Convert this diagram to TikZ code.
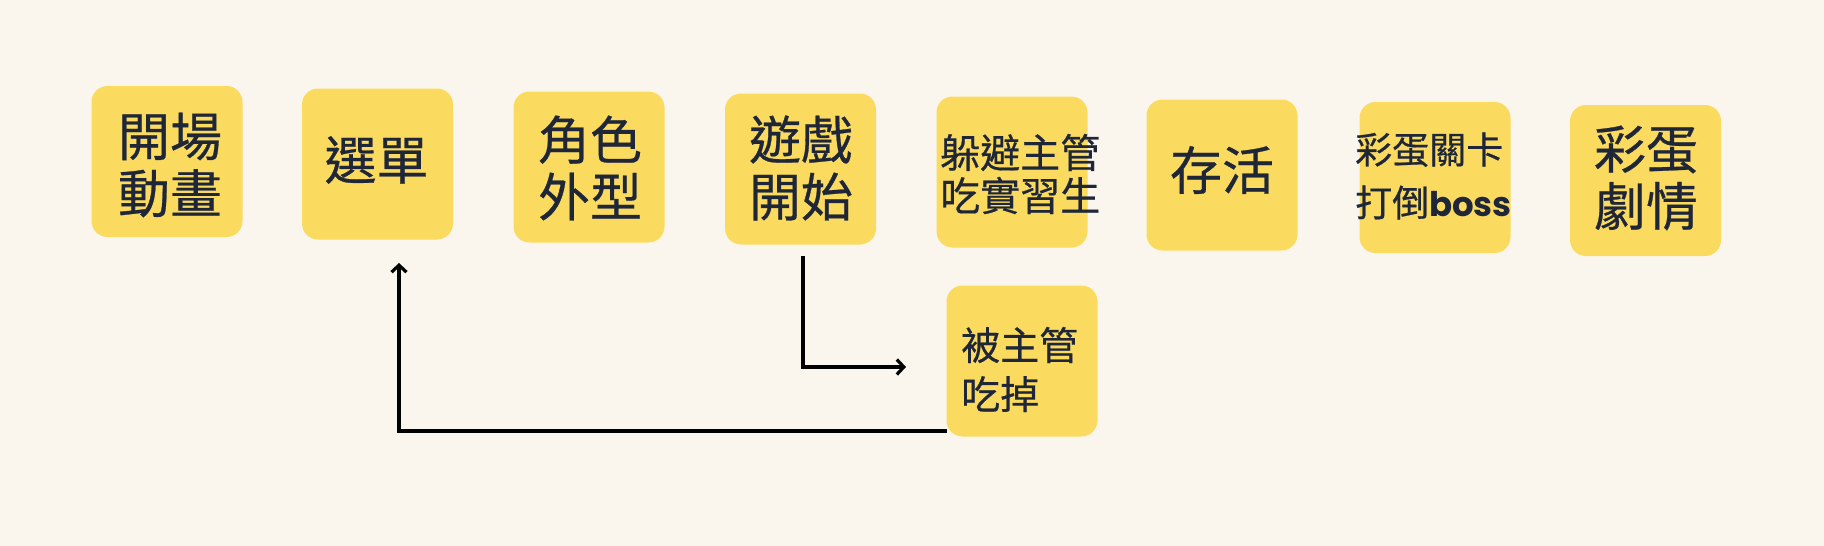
\documentclass[tikz,border=0pt]{standalone}
\usepackage{fontspec}
\setmainfont{Noto Sans CJK TC}[FakeBold=0.5]
\newfontfamily\popfont{Poppins}
\usetikzlibrary{arrows.meta}
\definecolor{bgc}{HTML}{FAF6EE}
\definecolor{boxc}{HTML}{FADB5F}
\definecolor{txtc}{HTML}{1F2638}
\tikzset{
  card/.style={fill=boxc, draw=none, rounded corners=16pt, minimum width=151pt, minimum height=151pt, inner sep=0pt},
  bigtxt/.style={text=txtc, align=center, inner sep=0pt, font=\fontsize{52}{57}\selectfont},
  midtxt/.style={text=txtc, align=left, inner sep=0pt, font=\fontsize{40}{43}\selectfont},
  bosstxt/.style={text=txtc, align=left, inner sep=0pt, font=\fontsize{37}{53}\selectfont},
  eatentxt/.style={text=txtc, align=left, inner sep=0pt, font=\fontsize{39}{49}\selectfont},
  arr/.style={line width=3.2pt, draw=black, -{Straight Barb[length=7pt,width=15pt,line width=3.2pt]}}
}
\begin{document}
\begin{tikzpicture}[x=1pt,y=-1pt]
\fill[bgc] (0,0) rectangle (1824,546);
\useasboundingbox (0,0) rectangle (1824,546);
% cards
\node[card] (b1) at (167,161.5) {};
\node[card] (b2) at (377.5,164) {};
\node[card] (b3) at (589,167) {};
\node[card] (b4) at (800.5,169) {};
\node[card] (b5) at (1012,172) {};
\node[card] (b6) at (1222,175) {};
\node[card] (b7) at (1435,177.5) {};
\node[card] (b8) at (1645.5,180.5) {};
\node[card] (b9) at (1022,361) {};
% texts
\node[bigtxt] (t1) at (170,165) {開場\\動畫};
\node[bigtxt] (t2) at (376.5,160) {選單};
\node[bigtxt] (t3) at (590,168) {角色\\外型};
\node[bigtxt] (t4) at (801,168) {遊戲\\開始};
\node[midtxt, anchor=west] (t5) at (940,174) {躲避主管\\吃實習生};
\node[bigtxt] (t6) at (1222,170) {存活};
\node[bosstxt, anchor=west] (t7) at (1355,176) {彩蛋關卡\\打倒{\popfont\bfseries\fontsize{34}{53}\selectfont boss}};
\node[bigtxt] (t8) at (1646,178) {彩蛋\\劇情};
\node[eatentxt, anchor=west] (t9) at (961,369.5) {被主管\\吃掉};
% connectors
\coordinate (a1s) at (803,256);
\coordinate (a1e) at (906,367);
\coordinate (a2s) at (947,431);
\coordinate (a2e) at (399,263);
\draw[arr] (a1s) |- (a1e);
\draw[arr] (a2s) -| (a2e);
\end{tikzpicture}
\end{document}
